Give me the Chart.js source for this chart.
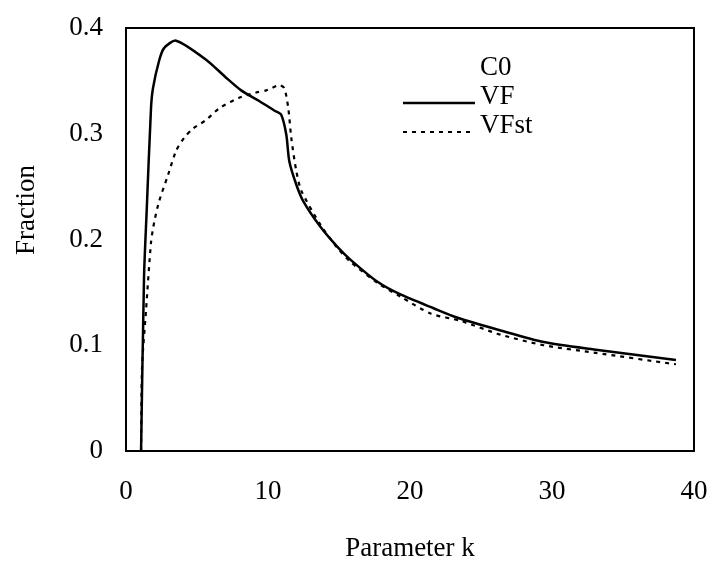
<!DOCTYPE html>
<html>
<head>
<meta charset="utf-8">
<script src="https://cdn.jsdelivr.net/npm/chart.js@4/dist/chart.umd.min.js"></script>
<style>
html,body{margin:0;padding:0;background:#fff;}
#wrap{width:713px;height:568px;}
</style>
</head>
<body>
<div id="wrap"><canvas id="c" width="713" height="568"></canvas></div>
<script>
// ---- data ----
const kVF = [1.06, 1.27, 1.45, 1.76, 1.90, 2.33, 2.68, 3.53, 5.64, 7.05, 8.11, 9.38, 10.44, 10.93, 11.29, 11.50, 11.99, 12.49, 13.69, 14.89, 15.80, 17.71, 19.33, 21.66, 23.35, 26.38, 29.42, 32.95, 38.73];
const vf  = [0.000, 0.165, 0.225, 0.324, 0.343, 0.369, 0.381, 0.388, 0.370, 0.353, 0.341, 0.331, 0.322, 0.318, 0.299, 0.274, 0.252, 0.236, 0.212, 0.193, 0.181, 0.160, 0.148, 0.135, 0.126, 0.114, 0.103, 0.096, 0.086];
const kVFst = [1.06, 1.13, 1.41, 1.76, 1.98, 2.33, 2.96, 3.53, 4.09, 4.73, 5.64, 6.56, 7.97, 9.17, 9.88, 10.79, 11.15, 11.43, 11.64, 11.99, 12.35, 13.69, 14.89, 15.80, 17.71, 19.33, 21.45, 23.56, 26.38, 29.42, 32.95, 38.73];
const vfst  = [0.000, 0.079, 0.133, 0.197, 0.216, 0.236, 0.261, 0.284, 0.296, 0.305, 0.313, 0.324, 0.334, 0.339, 0.341, 0.346, 0.343, 0.324, 0.296, 0.265, 0.246, 0.214, 0.192, 0.179, 0.159, 0.146, 0.130, 0.123, 0.110, 0.100, 0.093, 0.082];
const xTicks = [0, 10, 20, 30, 40];
const yTicks = [0, 0.1, 0.2, 0.3, 0.4];
const seriesNames = ['VF', 'VFst'];
const legendTitle = 'C0';
const xTitle = 'Parameter k';
const yTitle = 'Fraction';

const FONT = "'Liberation Serif', 'Times New Roman', serif";
const FS = 27;
const pts = (xs, ys) => xs.map((x, i) => ({x: x, y: ys[i]}));

const framePlugin = {
  id: 'frameAndLegend',
  afterDraw(chart) {
    const ctx = chart.ctx;
    const a = chart.chartArea;
    ctx.save();
    // frame
    ctx.strokeStyle = '#000';
    ctx.lineWidth = 2;
    ctx.setLineDash([]);
    ctx.strokeRect(a.left, a.top, a.right - a.left, a.bottom - a.top);
    // y title
    ctx.fillStyle = '#000';
    ctx.font = FS + 'px ' + FONT;
    ctx.textAlign = 'center';
    ctx.textBaseline = 'middle';
    ctx.save();
    ctx.translate(27, 210);
    ctx.rotate(-Math.PI / 2);
    ctx.fillText(yTitle, 0, 0);
    ctx.restore();
    // legend
    const lx = 480, ly = 75, gap = 29;
    ctx.textAlign = 'left';
    ctx.textBaseline = 'alphabetic';
    ctx.fillText(legendTitle, lx, ly);
    chart.data.datasets.forEach((ds, i) => {
      const y = ly + gap * (i + 1);
      ctx.fillText(ds.label, lx, y);
      ctx.beginPath();
      ctx.lineWidth = ds.borderWidth;
      ctx.setLineDash(ds.borderDash || []);
      ctx.moveTo(403, y - 1);
      ctx.lineTo(475, y - 1);
      ctx.stroke();
    });
    ctx.restore();
  }
};

new Chart(document.getElementById('c'), {
  type: 'line',
  data: {
    datasets: [
      { label: seriesNames[0], data: pts(kVF, vf), borderColor: '#000', borderWidth: 2.5, pointRadius: 0, tension: 0.25, fill: false },
      { label: seriesNames[1], data: pts(kVFst, vfst), borderColor: '#000', borderWidth: 2.2, borderDash: [4, 5], pointRadius: 0, tension: 0.25, fill: false }
    ]
  },
  options: {
    responsive: false,
    animation: false,
    devicePixelRatio: 1,
    layout: { padding: { top: 28, right: 19, left: 0, bottom: 0 } },
    plugins: { legend: { display: false }, tooltip: { enabled: false } },
    scales: {
      x: {
        type: 'linear', min: 0, max: 40,
        afterBuildTicks: s => { s.ticks = xTicks.map(v => ({value: v})); },
        afterFit: s => { s.height = 117; s.paddingLeft = 0; s.paddingRight = 0; },
        grid: { display: false, drawTicks: false },
        border: { display: true, color: '#000', width: 2 },
        ticks: { color: '#000', padding: 25, font: { family: FONT, size: FS }, maxRotation: 0 },
        title: { display: true, text: xTitle, color: '#000', font: { family: FONT, size: FS }, padding: { top: 0, bottom: 3 } }
      },
      y: {
        type: 'linear', min: 0, max: 0.4,
        afterBuildTicks: s => { s.ticks = yTicks.map(v => ({value: v})); },
        afterFit: s => { s.width = 126; s.paddingTop = 0; s.paddingBottom = 0; },
        grid: { display: false, drawTicks: false },
        border: { display: true, color: '#000', width: 2 },
        ticks: { color: '#000', padding: 23, font: { family: FONT, size: FS }, callback: v => String(Math.round(v * 10) / 10) }
      }
    }
  },
  plugins: [framePlugin]
});
</script>
</body>
</html>
